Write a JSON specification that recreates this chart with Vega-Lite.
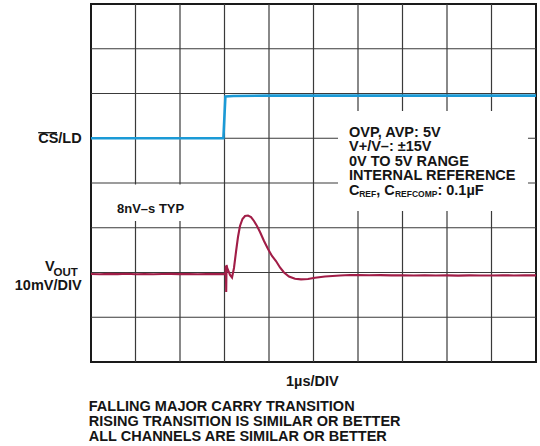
{
  "$schema": "https://vega.github.io/schema/vega-lite/v6.json",
  "width": 445,
  "height": 358,
  "autosize": {"type": "none"},
  "padding": {"left": 91, "top": 4, "right": 4, "bottom": 84},
  "background": "white",
  "config": {
    "view": {"stroke": "#1a1a1a", "strokeWidth": 2},
    "font": "Liberation Sans"
  },
  "datasets": {
    "gridX": [{"g": 1}, {"g": 2}, {"g": 3}, {"g": 4}, {"g": 5}, {"g": 6}, {"g": 7}, {"g": 8}, {"g": 9}],
    "gridY": [{"g": 1}, {"g": 2}, {"g": 3}, {"g": 4}, {"g": 5}, {"g": 6}, {"g": 7}],
    "cs": [
      {"t": 0, "v": 5.0}, {"t": 2.975, "v": 5.0}, {"t": 3.02, "v": 5.935}, {"t": 3.2, "v": 5.945}, {"t": 4, "v": 5.952}, {"t": 10, "v": 5.952}
    ],
    "vout": [
      {"t": 0, "v": 1.968}, {"t": 0.2, "v": 1.962}, {"t": 0.4, "v": 1.97}, {"t": 0.6, "v": 1.964}, {"t": 0.8, "v": 1.971}, {"t": 1.0, "v": 1.962},
      {"t": 1.2, "v": 1.968}, {"t": 1.4, "v": 1.96}, {"t": 1.6, "v": 1.966}, {"t": 1.8, "v": 1.97}, {"t": 2.0, "v": 1.963}, {"t": 2.2, "v": 1.967},
      {"t": 2.4, "v": 1.961}, {"t": 2.6, "v": 1.968}, {"t": 2.8, "v": 1.964}, {"t": 3.0, "v": 1.968}, {"t": 3.022, "v": 1.966},
      {"t": 3.03, "v": 2.145}, {"t": 3.038, "v": 1.564}, {"t": 3.046, "v": 2.17}, {"t": 3.06, "v": 2.1}, {"t": 3.09, "v": 2.03},
      {"t": 3.124, "v": 1.944}, {"t": 3.169, "v": 1.888}, {"t": 3.213, "v": 2.101}, {"t": 3.258, "v": 2.458}, {"t": 3.303, "v": 2.793},
      {"t": 3.348, "v": 3.039}, {"t": 3.404, "v": 3.196}, {"t": 3.461, "v": 3.263}, {"t": 3.528, "v": 3.274}, {"t": 3.596, "v": 3.24},
      {"t": 3.663, "v": 3.151}, {"t": 3.73, "v": 3.039}, {"t": 3.798, "v": 2.905}, {"t": 3.888, "v": 2.704}, {"t": 3.978, "v": 2.525},
      {"t": 4.067, "v": 2.369}, {"t": 4.157, "v": 2.257}, {"t": 4.247, "v": 2.112}, {"t": 4.337, "v": 2.0}, {"t": 4.449, "v": 1.911},
      {"t": 4.584, "v": 1.859}, {"t": 4.719, "v": 1.846}, {"t": 4.876, "v": 1.855}, {"t": 5.034, "v": 1.882}, {"t": 5.258, "v": 1.911},
      {"t": 5.596, "v": 1.933}, {"t": 5.82, "v": 1.944}, {"t": 6.0, "v": 1.942}, {"t": 6.25, "v": 1.938}, {"t": 6.5, "v": 1.941},
      {"t": 6.75, "v": 1.936}, {"t": 7.0, "v": 1.939}, {"t": 7.25, "v": 1.934}, {"t": 7.5, "v": 1.937}, {"t": 7.75, "v": 1.932},
      {"t": 8.0, "v": 1.935}, {"t": 8.25, "v": 1.931}, {"t": 8.5, "v": 1.936}, {"t": 8.75, "v": 1.932}, {"t": 9.0, "v": 1.934},
      {"t": 9.25, "v": 1.938}, {"t": 9.5, "v": 1.933}, {"t": 9.75, "v": 1.936}, {"t": 10, "v": 1.935}
    ],
    "boxes": [
      {"x1": 5.551, "x2": 9.82, "y1": 3.374, "y2": 5.609},
      {"x1": 0.382, "x2": 2.27, "y1": 3.151, "y2": 3.966}
    ],
    "mainLeft": [
      {"x": 5.798, "y": 5.028, "label": "OVP, AVP: 5V"},
      {"x": 5.798, "y": 4.704, "label": "V+/V–: ±15V"},
      {"x": 5.798, "y": 4.38, "label": "0V TO 5V RANGE"},
      {"x": 5.798, "y": 4.056, "label": "INTERNAL REFERENCE"},
      {"x": 5.798, "y": 3.732, "label": "C"},
      {"x": 6.409, "y": 3.732, "label": ", C"},
      {"x": 7.784, "y": 3.732, "label": ": 0.1µF"},
      {"x": -1.034, "y": 2.04, "label": "V"},
      {"x": -0.05, "y": -1.088, "label": "FALLING MAJOR CARRY TRANSITION"},
      {"x": -0.05, "y": -1.423, "label": "RISING TRANSITION IS SIMILAR OR BETTER"},
      {"x": -0.05, "y": -1.759, "label": "ALL CHANNELS ARE SIMILAR OR BETTER"}
    ],
    "subLeft": [
      {"x": 6.027, "y": 3.676, "label": "REF"},
      {"x": 6.83, "y": 3.676, "label": "REFCOMP"}
    ],
    "mainRight": [
      {"x": -0.209, "y": 4.894, "label": "CS/LD"},
      {"x": -0.209, "y": 1.6, "label": "10mV/DIV"}
    ],
    "subVout": [
      {"x": -0.84, "y": 1.93, "label": "OUT"}
    ],
    "small": [
      {"x": 0.584, "y": 3.336, "label": "8nV–s TYP"}
    ],
    "center": [
      {"x": 4.975, "y": -0.536, "label": "1µs/DIV"}
    ],
    "overline": [
      {"x1": -1.187, "x2": -0.764, "y": 5.124}
    ]
  },
  "layer": [
    {
      "data": {"name": "gridX"},
      "mark": {"type": "rule", "color": "#3a3a3a", "strokeWidth": 1.2},
      "encoding": {
        "x": {"field": "g", "type": "quantitative", "scale": {"domain": [0, 10], "nice": false, "zero": false}, "axis": null}
      }
    },
    {
      "data": {"name": "gridY"},
      "mark": {"type": "rule", "color": "#3a3a3a", "strokeWidth": 1.2},
      "encoding": {
        "y": {"field": "g", "type": "quantitative", "scale": {"domain": [0, 8], "nice": false, "zero": false}, "axis": null}
      }
    },
    {
      "data": {"name": "boxes"},
      "mark": {"type": "rect", "fill": "white", "stroke": null},
      "encoding": {
        "x": {"field": "x1", "type": "quantitative", "scale": {"domain": [0, 10], "nice": false, "zero": false}, "axis": null},
        "x2": {"field": "x2"},
        "y": {"field": "y1", "type": "quantitative", "scale": {"domain": [0, 8], "nice": false, "zero": false}, "axis": null},
        "y2": {"field": "y2"}
      }
    },
    {
      "data": {"name": "cs"},
      "mark": {"type": "line", "color": "#1b9ad6", "strokeWidth": 2.6},
      "encoding": {
        "x": {"field": "t", "type": "quantitative", "scale": {"domain": [0, 10], "nice": false, "zero": false}, "axis": null},
        "y": {"field": "v", "type": "quantitative", "scale": {"domain": [0, 8], "nice": false, "zero": false}, "axis": null}
      }
    },
    {
      "data": {"name": "vout"},
      "mark": {"type": "line", "color": "#a11d47", "strokeWidth": 2.1},
      "encoding": {
        "x": {"field": "t", "type": "quantitative", "scale": {"domain": [0, 10], "nice": false, "zero": false}, "axis": null},
        "y": {"field": "v", "type": "quantitative", "scale": {"domain": [0, 8], "nice": false, "zero": false}, "axis": null}
      }
    },
    {
      "data": {"name": "mainLeft"},
      "mark": {"type": "text", "align": "left", "baseline": "alphabetic", "fontSize": 14.5, "fontWeight": "bold", "color": "#151515"},
      "encoding": {
        "x": {"field": "x", "type": "quantitative", "scale": {"domain": [0, 10], "nice": false, "zero": false}, "axis": null},
        "y": {"field": "y", "type": "quantitative", "scale": {"domain": [0, 8], "nice": false, "zero": false}, "axis": null},
        "text": {"field": "label"}
      }
    },
    {
      "data": {"name": "subLeft"},
      "mark": {"type": "text", "align": "left", "baseline": "alphabetic", "fontSize": 8.5, "fontWeight": "bold", "color": "#151515"},
      "encoding": {
        "x": {"field": "x", "type": "quantitative", "scale": {"domain": [0, 10], "nice": false, "zero": false}, "axis": null},
        "y": {"field": "y", "type": "quantitative", "scale": {"domain": [0, 8], "nice": false, "zero": false}, "axis": null},
        "text": {"field": "label"}
      }
    },
    {
      "data": {"name": "mainRight"},
      "mark": {"type": "text", "align": "right", "baseline": "alphabetic", "fontSize": 14.5, "fontWeight": "bold", "color": "#151515"},
      "encoding": {
        "x": {"field": "x", "type": "quantitative", "scale": {"domain": [0, 10], "nice": false, "zero": false}, "axis": null},
        "y": {"field": "y", "type": "quantitative", "scale": {"domain": [0, 8], "nice": false, "zero": false}, "axis": null},
        "text": {"field": "label"}
      }
    },
    {
      "data": {"name": "subVout"},
      "mark": {"type": "text", "align": "left", "baseline": "alphabetic", "fontSize": 11.5, "fontWeight": "bold", "color": "#151515"},
      "encoding": {
        "x": {"field": "x", "type": "quantitative", "scale": {"domain": [0, 10], "nice": false, "zero": false}, "axis": null},
        "y": {"field": "y", "type": "quantitative", "scale": {"domain": [0, 8], "nice": false, "zero": false}, "axis": null},
        "text": {"field": "label"}
      }
    },
    {
      "data": {"name": "small"},
      "mark": {"type": "text", "align": "left", "baseline": "alphabetic", "fontSize": 13, "fontWeight": "bold", "color": "#151515"},
      "encoding": {
        "x": {"field": "x", "type": "quantitative", "scale": {"domain": [0, 10], "nice": false, "zero": false}, "axis": null},
        "y": {"field": "y", "type": "quantitative", "scale": {"domain": [0, 8], "nice": false, "zero": false}, "axis": null},
        "text": {"field": "label"}
      }
    },
    {
      "data": {"name": "center"},
      "mark": {"type": "text", "align": "center", "baseline": "alphabetic", "fontSize": 14.5, "fontWeight": "bold", "color": "#151515"},
      "encoding": {
        "x": {"field": "x", "type": "quantitative", "scale": {"domain": [0, 10], "nice": false, "zero": false}, "axis": null},
        "y": {"field": "y", "type": "quantitative", "scale": {"domain": [0, 8], "nice": false, "zero": false}, "axis": null},
        "text": {"field": "label"}
      }
    },
    {
      "data": {"name": "overline"},
      "mark": {"type": "rule", "color": "#151515", "strokeWidth": 1.3},
      "encoding": {
        "x": {"field": "x1", "type": "quantitative", "scale": {"domain": [0, 10], "nice": false, "zero": false}, "axis": null},
        "x2": {"field": "x2"},
        "y": {"field": "y", "type": "quantitative", "scale": {"domain": [0, 8], "nice": false, "zero": false}, "axis": null}
      }
    }
  ]
}
